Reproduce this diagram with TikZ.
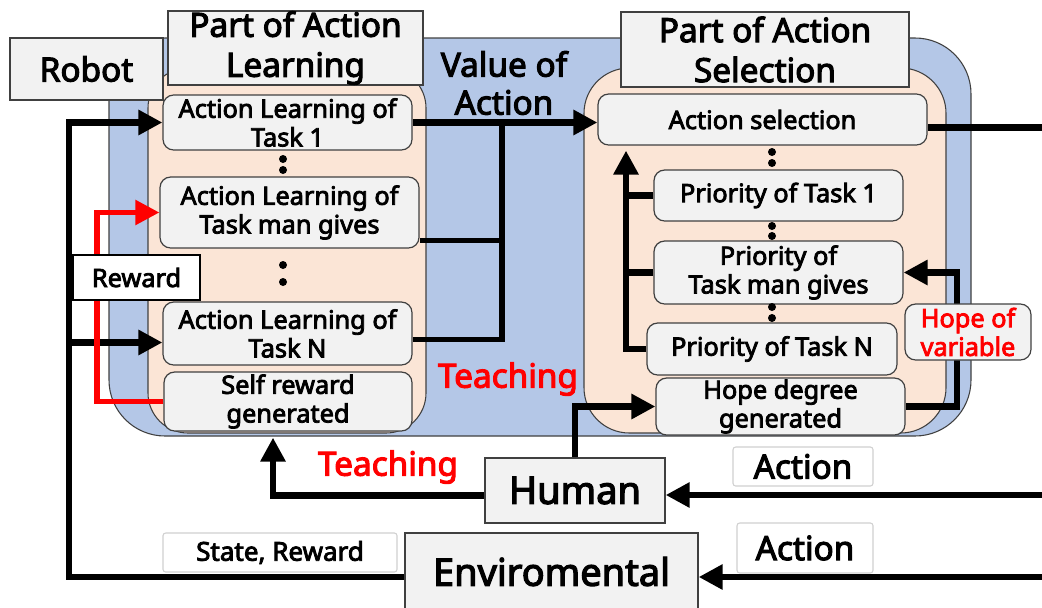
\documentclass[tikz,border=0pt]{standalone}
\usepackage{fontspec}
\setmainfont{Noto Sans}[AutoFakeBold=3.2]
\usetikzlibrary{arrows.meta,calc}
\pgfdeclarelayer{bg}\pgfdeclarelayer{mid}\pgfsetlayers{bg,mid,main}
\definecolor{blueback}{HTML}{B4C7E7}
\definecolor{peach}{HTML}{FBE5D6}
\definecolor{boxgray}{HTML}{F2F2F2}
\definecolor{edge}{HTML}{404040}
\definecolor{lab}{HTML}{D0D0D0}
\tikzset{
 titlebox/.style={draw=edge, line width=1pt, fill=boxgray, align=center, inner sep=0pt, font=\bfseries\fontsize{25pt}{30pt}\selectfont},
 bigbox/.style={titlebox, font=\bfseries\fontsize{28.5pt}{32pt}\selectfont},
 innerbox/.style={draw=edge, line width=0.9pt, fill=boxgray, rounded corners=8pt, align=center, inner sep=0pt, font=\bfseries\fontsize{19pt}{21.5pt}\selectfont},
 labbox/.style={draw=lab, line width=0.8pt, fill=white, rounded corners=2pt, align=center, inner sep=0pt, font=\bfseries\fontsize{25pt}{28pt}\selectfont},
 redtext/.style={text=red, font=\bfseries\fontsize{25pt}{28pt}\selectfont, inner sep=0pt},
 conn/.style={line width=4.8pt, black},
 redconn/.style={line width=4pt, red},
 tip/.style={-{Triangle[length=18pt,width=18pt]}},
 dotmark/.style={fill=black},
}
\begin{document}
\begin{tikzpicture}[x=0.75pt,y=-0.75pt]
\useasboundingbox (0,0) rectangle (1042,607);

% ---------- nodes ----------
\node[titlebox, minimum width=114.75pt, minimum height=46.5pt] (robot) at (86.5,69) {Robot};
\node[titlebox, minimum width=191.25pt, minimum height=55.5pt] (pal) at (295.5,48) {Part of Action\\Learning};
\node[titlebox, minimum width=216pt, minimum height=56.25pt] (pas) at (765,49.5) {Part of Action\\Selection};

\node[innerbox, minimum width=186.75pt, minimum height=41.25pt] (t1) at (287.5,122.5) {Action Learning of\\Task 1};
\node[innerbox, minimum width=194.25pt, minimum height=53.25pt] (tm) at (289.5,212.5) {Action Learning of\\Task man gives};
\node[innerbox, minimum width=186.75pt, minimum height=47.25pt] (tn) at (287.5,333.5) {Action Learning of\\Task N};
\node[innerbox, minimum width=186pt, minimum height=44.25pt] (sr) at (288,401.5) {Self reward\\generated};

\node[innerbox, minimum width=246.75pt, minimum height=38.25pt] (as) at (762.5,119.5) {Action selection};
\node[innerbox, minimum width=186.75pt, minimum height=38.25pt] (p1) at (778.5,195.5) {Priority of Task 1};
\node[innerbox, minimum width=186.75pt, minimum height=47.25pt] (pm) at (778.5,272.5) {Priority of\\Task man gives};
\node[innerbox, minimum width=187.5pt, minimum height=39pt] (pn) at (772,349) {Priority of Task N};
\node[innerbox, minimum width=186.75pt, minimum height=42.75pt] (hd) at (780.5,406.5) {Hope degree\\generated};
\node[innerbox, text=red, minimum width=94.5pt, minimum height=42pt] (hv) at (968,332) {Hope of\\variable};

\node[draw=black, fill=white, line width=0.9pt, inner sep=0pt, minimum width=95.25pt, minimum height=33.75pt, font=\bfseries\fontsize{19pt}{21pt}\selectfont] (rw) at (136.5,277.5) {Reward};

\node[inner sep=0pt, font=\bfseries\fontsize{25pt}{28.5pt}\selectfont, align=center] (val) at (504,83) {Value of\\Action};
\node[redtext] (teach1) at (508,379) {Teaching};
\node[redtext] (teach2) at (388,467) {Teaching};

\node[bigbox, minimum width=135pt, minimum height=48.75pt] (human) at (575,490.5) {Human};
\node[bigbox, minimum width=219.75pt, minimum height=57.75pt] (env) at (551.5,571.5) {Enviromental};
\node[labbox, minimum width=105pt, minimum height=29.25pt] (act1) at (803,466.5) {Action};
\node[labbox, minimum width=102pt, minimum height=37.5pt] (act2) at (805,548) {Action};
\node[labbox, minimum width=175.5pt, minimum height=29.25pt, font=\bfseries\fontsize{19.5pt}{21pt}\selectfont] (sw) at (280,552.5) {State, Reward};

% ---------- background panels ----------
\begin{pgfonlayer}{bg}
\draw[fill=blueback, draw=edge, line width=0.8pt, rounded corners=42pt] (109,38) rectangle (971,436);
\draw[fill=peach, draw=edge, line width=0.8pt, rounded corners=30pt] (148,68) rectangle (426,433);
\draw[fill=peach, draw=edge, line width=0.8pt, rounded corners=34pt] (584,68) rectangle (946,433);
\end{pgfonlayer}

% ---------- connectors ----------
\begin{pgfonlayer}{mid}
\coordinate (lv) at (69,0);
\coordinate (vj) at (502,0);
\coordinate (pv) at (626,0);
\coordinate (hx) at (957,0);
\coordinate (tx) at (273,0);
\coordinate (rx) at (1046,0);
\coordinate (rdx) at (97,0);

% state, reward to learning tasks
\draw[conn,tip] ($(env.west)+(0,5.5)$) -| (lv |- t1.west) -- (t1.west);
\coordinate (tnin) at ($(tn.west)+(0,9)$);
\draw[conn,tip] (lv |- tnin) -- (tnin);

% self reward (red)
\draw[redconn,tip] (sr.west) -- (rdx |- sr.west) |- (tm.west);

% value of action
\draw[conn,tip] (t1.east) -- (t1.east -| as.west);
\draw[conn,line width=4pt] ($(tm.south east)+(0,-8)$) -| (vj |- t1.east);
\draw[conn,line width=4pt] ($(tn.east)+(0,6)$) -| (vj |- t1.east);

% priorities to action selection
\draw[conn,tip] (pn.west) -| ($(pv |- as.south)+(0,5)$);
\draw[conn] (p1.west) -- (pv |- p1.west);
\draw[conn] (pm.west) -- (pv |- pm.west);

% hope of variable
\draw[conn,tip] (hd.east) -| (hx |- pm.east) -- (pm.east);

% human to hope degree
\draw[conn,tip] (human.north) |- (hd.west);

% teaching from human
\draw[conn,tip] ($(human.west)+(0,5)$) -| ($(tx |- sr.south)+(0,6)$);

% action outputs
\draw[conn] ($(as.east)+(0,8)$) -| ($(rx |- env.east)+(0,8)$);
\draw[conn,tip] ($(rx |- env.east)+(0,5.5)$) -- ($(env.east)+(0,5.5)$);
\draw[conn,tip] ($(rx |- human.east)+(0,4.5)$) -- ($(human.east)+(0,4.5)$);
\end{pgfonlayer}

% ---------- dots ----------
\foreach \yy in {159,170,265,282} \fill[dotmark] (283,\yy) circle[radius=3pt];
\foreach \yy in {152,163,226,236,307,318} \fill[dotmark] (772,\yy) circle[radius=3pt];
\end{tikzpicture}
\end{document}
